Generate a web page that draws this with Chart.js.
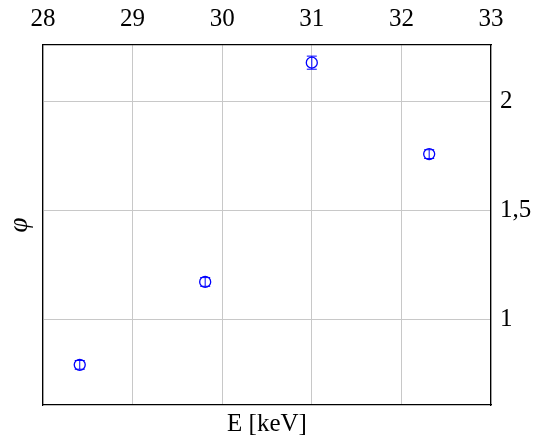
<!DOCTYPE html>
<html>
<head>
<meta charset="utf-8">
<script src="https://cdn.jsdelivr.net/npm/chart.js@4.4.0/dist/chart.umd.min.js"></script>
<style>
  html, body { margin: 0; padding: 0; background: #fff; }
  #wrap { width: 542px; height: 439px; }
</style>
</head>
<body>
<div id="wrap"><canvas id="myChart"></canvas></div>
<script>
// energy of each measurement, keV
var energy = [28.41, 29.81, 31.0, 32.31];
// phi values and their errors
var phi = [0.794, 1.174, 2.179, 1.760];
var phiErr = [0.02, 0.02, 0.03, 0.02];
var xTicks = [28, 29, 30, 31, 32, 33];
var yTicks = [1, 1.5, 2];

var points = energy.map(function (e, i) {
  return { x: e, y: phi[i] };
});

var serif = 'Liberation Serif';

// draw vertical error bars with small caps
var errorBars = {
  id: 'errorBars',
  afterDatasetsDraw: function (chart) {
    var ctx = chart.ctx;
    var xs = chart.scales.x, ys = chart.scales.y;
    ctx.save();
    ctx.strokeStyle = '#0000ff';
    ctx.lineWidth = 1;
    for (var i = 0; i < energy.length; i++) {
      var px = xs.getPixelForValue(energy[i]);
      var top = ys.getPixelForValue(phi[i] + phiErr[i]);
      var bot = ys.getPixelForValue(phi[i] - phiErr[i]);
      ctx.beginPath();
      ctx.moveTo(px, top); ctx.lineTo(px, bot);
      ctx.moveTo(px - 5, top); ctx.lineTo(px + 5, top);
      ctx.moveTo(px - 5, bot); ctx.lineTo(px + 5, bot);
      ctx.stroke();
    }
    ctx.restore();
  }
};

var ctx = document.getElementById('myChart').getContext('2d');
var chart = new Chart(ctx, {
  type: 'scatter',
  data: {
    datasets: [{
      data: points,
      pointStyle: 'circle',
      pointRadius: 5.5,
      pointHoverRadius: 5.5,
      borderColor: '#0000ff',
      backgroundColor: 'rgba(0,0,0,0)',
      borderWidth: 1.3
    }]
  },
  options: {
    responsive: true,
    maintainAspectRatio: false,
    animation: false,
    layout: { padding: 0 },
    plugins: { legend: { display: false }, tooltip: { enabled: false } },
    scales: {
      x: {
        position: 'top',
        min: 28, max: 33,
        afterBuildTicks: function (s) { s.ticks = xTicks.map(function (v) { return { value: v }; }); },
        afterFit: function (s) { s.height = 45; },
        grid: { color: '#c8c8c8', drawTicks: false },
        border: { display: true, color: '#000', width: 1.2 },
        ticks: { color: '#000', padding: 11, maxRotation: 0, font: { family: serif, size: 25 } }
      },
      y: {
        position: 'right',
        min: 0.61, max: 2.26,
        afterBuildTicks: function (s) { s.ticks = yTicks.map(function (v) { return { value: v }; }); },
        afterFit: function (s) { s.width = 51; },
        grid: { color: '#c8c8c8', drawTicks: false },
        border: { display: true, color: '#000', width: 1.2 },
        ticks: {
          color: '#000', padding: 9, font: { family: serif, size: 25 },
          callback: function (v) { return String(v).replace('.', ','); }
        }
      },
      xb: {
        type: 'linear',
        position: 'bottom',
        min: 28, max: 33,
        afterFit: function (s) { s.height = 34; },
        grid: { display: false, drawTicks: false },
        border: { display: true, color: '#000', width: 1.2 },
        ticks: { display: false },
        title: { display: true, text: 'E [keV]', color: '#000', padding: { top: 3, bottom: 0 }, font: { family: serif, size: 25 } }
      },
      yl: {
        type: 'linear',
        position: 'left',
        min: 0.61, max: 2.26,
        afterFit: function (s) { s.width = 43; },
        grid: { display: false, drawTicks: false },
        border: { display: true, color: '#000', width: 1.2 },
        ticks: { display: false },
        title: { display: true, text: 'φ', color: '#000', padding: { top: 4, bottom: 4 }, font: { family: serif, size: 27, style: 'italic' } }
      }
    }
  },
  plugins: [errorBars]
});
</script>
</body>
</html>
